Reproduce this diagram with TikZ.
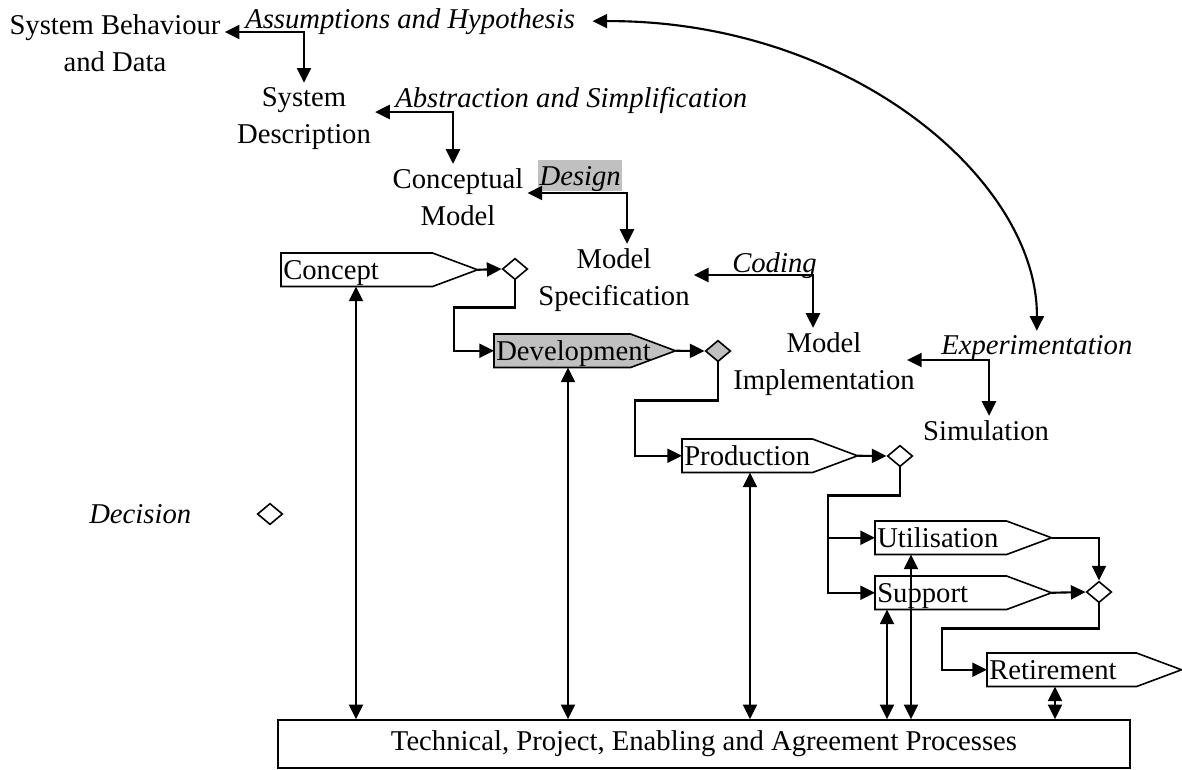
\documentclass[tikz,border=0pt]{standalone}
\usepackage{fontspec}
\setmainfont{Liberation Serif}
\usetikzlibrary{arrows.meta,shapes.geometric,backgrounds}
\definecolor{shade}{HTML}{C0C0C0}
\begin{document}
\begin{tikzpicture}[x=0.75pt,y=-0.75pt,
  font=\fontsize{21.5}{27.75}\selectfont,
  lbl/.style={inner sep=3pt, align=center, anchor=base},
  tag/.style={inner sep=3pt, font=\fontsize{21.5}{27.75}\selectfont\itshape, anchor=base west},
  arr/.style={line width=1.6pt, -{Triangle[length=11pt,width=10.5pt]}},
  dbl/.style={line width=1.6pt, {Triangle[length=11pt,width=10.5pt]}-{Triangle[length=11pt,width=10.5pt]}},
  stagebox/.style={rectangle, anchor=north west, inner ysep=0pt, inner xsep=1.5pt,
    minimum height=24.75pt, text height=19.5pt, text depth=5.25pt, align=left},
  stageline/.style={draw, line width=1.2pt, fill=white},
  gate/.style={diamond, draw, line width=1.2pt, fill=white, inner sep=0pt,
    minimum width=19pt, minimum height=16pt},
]
\useasboundingbox (0,0) rectangle (1182,769);

% modelling chain
\node[lbl] (sb) at (115,71) {System Behaviour\\and Data};
\node[tag] (ah) at (241,28) {Assumptions and Hypothesis};
\node[lbl] (sd) at (304,143) {System\\Description};
\node[tag] (as) at (391,107) {Abstraction and Simplification};
\node[lbl] (cm) at (458,225) {Conceptual\\Model};
\node[tag, fill=shade, inner sep=0pt, inner xsep=1pt, text height=18.75pt, text depth=4.5pt] (de) at (538,185) {Design};
\node[lbl] (ms) at (614,305) {Model\\Specification};
\node[tag] (co) at (728,272) {Coding};
\node[lbl] (mi) at (824,389) {Model\\Implementation};
\node[tag] (ex) at (937,354) {Experimentation};
\node[lbl] (si) at (986,440) {Simulation};

\coordinate (j1) at (304,32);
\coordinate (j2) at (453,112);
\coordinate (j3) at (627,193);
\coordinate (j4) at (813,275);
\coordinate (j5) at (989,360);

\draw[dbl] (j1 -| sb.east) -- (j1) -- (j1 |- sd.north);
\draw[dbl] (j2 -| sd.east) -- (j2) -- (j2 |- cm.north);
\draw[dbl] (j3 -| cm.east) -- (j3) -- (j3 |- ms.north);
\draw[dbl] (j4 -| ms.east) -- (j4) -- (j4 |- mi.north);
\draw[dbl] ([xshift=-9pt]j5 -| mi.east) -- (j5) -- (j5 |- si.north);

\draw[dbl] ([xshift=10pt]ah.east) .. controls (850,20) and (1038,180) .. (ex.north);

% life cycle stages
\node[stagebox, text width=144pt] (concept) at (281,253) {Concept};
\node[stagebox, text width=132.75pt] (devel) at (494,334) {Development};
\node[stagebox, text width=128.25pt] (prod) at (682,439) {Production};
\node[stagebox, text width=129pt] (util) at (875,521) {Utilisation};
\node[stagebox, text width=129pt] (supp) at (875,576) {Support};
\node[stagebox, text width=142.5pt] (reti) at (987,653) {Retirement};

\begin{scope}[on background layer]
  \foreach \n/\c in {concept/white,devel/shade,prod/white,util/white,supp/white,reti/white}
    \draw[stageline, fill=\c] (\n.north west) -- ([xshift=-33.75pt]\n.north east) -- (\n.east)
      -- ([xshift=-33.75pt]\n.south east) -- (\n.south west) -- cycle;
\end{scope}

\node[gate] (d1) at (515,269) {};
\node[gate, fill=shade] (d2) at (718,351) {};
\node[gate] (d3) at (900,456) {};
\node[gate] (d4) at (1099,592) {};

\node[draw, line width=1.2pt, minimum width=639pt, minimum height=36pt, inner sep=0pt] (tp) at (704,744)
  {Technical, Project, Enabling and Agreement Processes};

% legend
\node[tag] (dec) at (85,523) {Decision};
\node[gate] (legend) at (270,514) {};

% flow between stages
\draw[arr] (concept.east) -- (d1.west);
\draw[arr] (d1.south) -- ++(0,27) -| ([xshift=-30pt]devel.west) -- (devel.west);
\draw[arr] (devel.east) -- (d2.west);
\draw[arr] (d2.south) -- ++(0,38) -| ([xshift=-35.25pt]prod.west) -- (prod.west);
\draw[arr] (prod.east) -- (d3.west);
\draw[arr] (d3.south) -- ++(0,28) -| ([xshift=-35.25pt]supp.west) -- (supp.west);
\draw[arr] ([xshift=-35.25pt]util.west) -- (util.west);
\draw[arr] (util.east) -| (d4.north);
\draw[arr] (supp.east) -- (d4.west);
\draw[arr] (d4.south) -- ++(0,25) -| ([xshift=-33.75pt]reti.west) -- (reti.west);

% links to the supporting processes
\coordinate (v1) at ([xshift=56.25pt]concept.south west);
\coordinate (v2) at ([xshift=55.5pt]devel.south west);
\coordinate (v3) at ([xshift=51pt]prod.south west);
\coordinate (v4) at ([xshift=9pt]supp.south west);
\coordinate (v5) at ([xshift=27pt]util.south west);
\coordinate (v6) at ([xshift=51pt]reti.south west);
\foreach \v in {v1,v2,v3,v4,v5,v6}
  \draw[dbl] (\v) -- (\v |- tp.north);
\end{tikzpicture}
\end{document}
